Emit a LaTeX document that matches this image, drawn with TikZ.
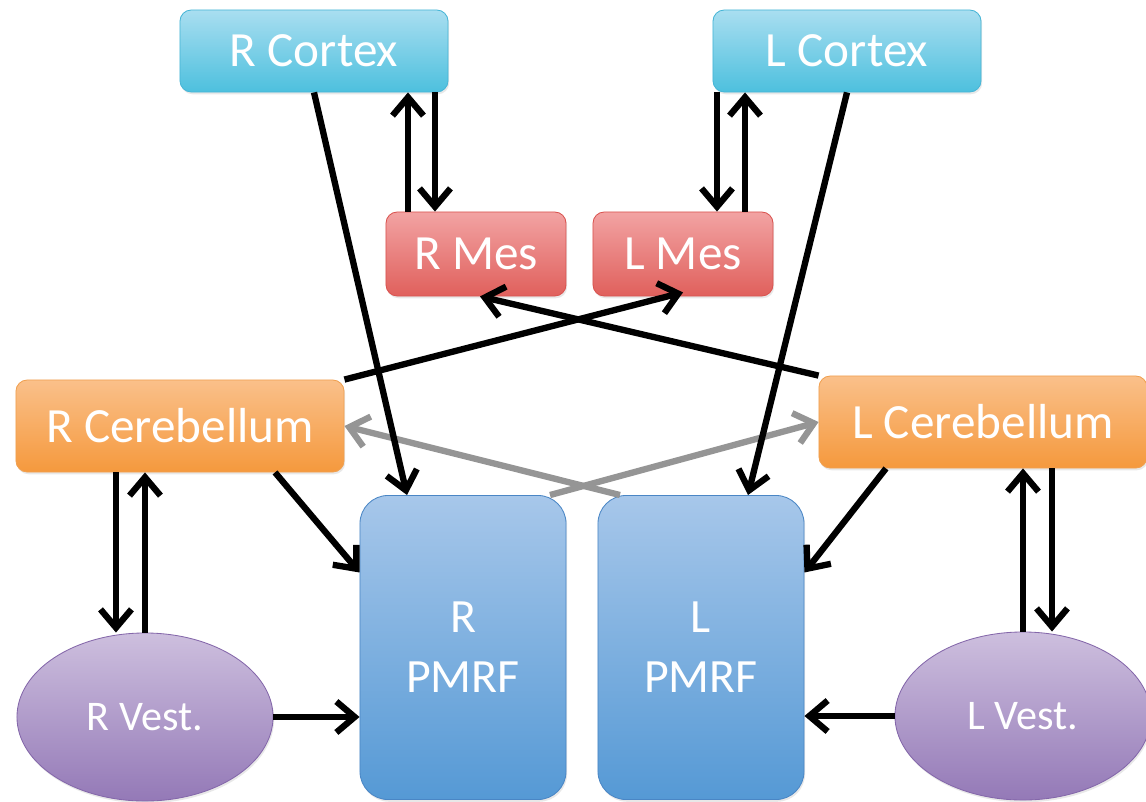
\documentclass[tikz,border=0pt]{standalone}
\usepackage{fontspec}
\setmainfont{Carlito}
\usetikzlibrary{arrows.meta,shapes.geometric,shadows,positioning}

\definecolor{cortexTop}{HTML}{A9DEF0}
\definecolor{cortexBot}{HTML}{4DC0DE}
\definecolor{cortexLine}{HTML}{46B5D6}
\definecolor{mesTop}{HTML}{F2A3A3}
\definecolor{mesBot}{HTML}{E0605C}
\definecolor{mesLine}{HTML}{D9534F}
\definecolor{cerebTop}{HTML}{FAC08A}
\definecolor{cerebBot}{HTML}{F5993D}
\definecolor{cerebLine}{HTML}{F0A050}
\definecolor{pmrfTop}{HTML}{A7C7EA}
\definecolor{pmrfBot}{HTML}{5599D5}
\definecolor{pmrfLine}{HTML}{4A86C5}
\definecolor{vestTop}{HTML}{CDBFDE}
\definecolor{vestBot}{HTML}{9479B7}
\definecolor{vestLine}{HTML}{8467AA}
\definecolor{weakGray}{HTML}{959595}

\begin{document}
\begin{tikzpicture}[x=0.025cm, y=-0.025cm,
    box/.style={draw, line width=0.6pt, rounded corners=8pt, text=white,
                align=center, inner sep=0pt, font=\fontsize{35}{42.5}\selectfont,
                drop shadow={opacity=0.18, shadow xshift=0.8pt, shadow yshift=-1.6pt}},
    cortex/.style={box, draw=cortexLine, top color=cortexTop, bottom color=cortexBot,
                   minimum width=6.7cm, minimum height=2.05cm},
    mes/.style={box, draw=mesLine, top color=mesTop, bottom color=mesBot,
                minimum width=4.5cm, minimum height=2.1cm},
    cereb/.style={box, draw=cerebLine, top color=cerebTop, bottom color=cerebBot,
                  minimum width=8.2cm, minimum height=2.3cm},
    pmrf/.style={box, draw=pmrfLine, top color=pmrfTop, bottom color=pmrfBot,
                 rounded corners=20pt, minimum width=5.15cm, minimum height=7.6cm,
                 font=\fontsize{34}{42.5}\selectfont},
    vest/.style={ellipse, draw=vestLine, line width=0.6pt, top color=vestTop,
                 bottom color=vestBot, text=white, inner sep=0pt,
                 minimum width=6.4cm, minimum height=4.2cm,
                 font=\fontsize{30}{36}\selectfont,
                 drop shadow={opacity=0.18, shadow xshift=0.8pt, shadow yshift=-1.6pt}},
    tract/.style={every edge/.style={draw, line width=4.5pt,
                  -{Straight Barb[length=13pt,width=22pt]}}},
    weak/.style={every edge/.style={draw=weakGray, line width=4.5pt,
                 -{Straight Barb[length=13pt,width=22pt]}}}]

  \useasboundingbox (0,0) rectangle (1146,802);

  \node[cortex] (RCortex) at (314,51)    {R Cortex};
  \node[cortex] (LCortex) at (847,51)    {L Cortex};
  \node[mes]    (RMes)    at (476,254)   {R Mes};
  \node[mes]    (LMes)    at (683,254)   {L Mes};
  \node[cereb]  (RCereb)  at (180,426)   {R Cerebellum};
  \node[cereb]  (LCereb)  at (983,422)   {L Cerebellum};
  \node[pmrf]   (RPMRF)   at (463,647.5) {R\\PMRF};
  \node[pmrf]   (LPMRF)   at (701,647.5) {L\\PMRF};
  \node[vest]   (RVest)   at (145,717)   {R Vest.};
  \node[vest]   (LVest)   at (1023,716)  {L Vest.};

  \path[weak] ([xshift=-2.025cm]LPMRF.north) edge (RCereb.east)
              ([xshift=2.175cm]RPMRF.north)  edge (LCereb.west);

  \path[tract]
    (RCortex.south) edge ([xshift=-1.4cm]RPMRF.north)
    (LCortex.south) edge ([xshift=1.175cm]LPMRF.north)
    ([xshift=-1.7cm]RMes.north)   edge ([xshift=-1.7cm]RMes.north |- RCortex.south)
    ([xshift=-1.025cm]RMes.north |- RCortex.south) edge ([xshift=-1.025cm]RMes.north)
    ([xshift=0.85cm]LMes.north |- LCortex.south)   edge ([xshift=0.85cm]LMes.north)
    ([xshift=1.55cm]LMes.north)   edge ([xshift=1.55cm]LMes.north |- LCortex.south)
    (LCereb.north west) edge ([xshift=0.1cm]RMes.south)
    (RCereb.north east) edge ([yshift=0.1cm]LMes.south)
    ([xshift=2.375cm]RCereb.south)  edge ([yshift=1.875cm]RPMRF.west)
    ([xshift=-2.425cm]LCereb.south) edge ([yshift=1.875cm]LPMRF.east)
    ([xshift=-1.6cm]RCereb.south) edge ([xshift=-1.6cm]RCereb.south |- RVest.north)
    (RVest.north) edge (RVest.north |- RCereb.south)
    (LVest.north) edge (LVest.north |- LCereb.south)
    ([xshift=0.725cm]LVest.north |- LCereb.south) edge ([xshift=0.725cm]LVest.north)
    (RVest.east) edge (RPMRF.west |- RVest.east)
    (LVest.west) edge (LPMRF.east |- LVest.west);
\end{tikzpicture}
\end{document}
